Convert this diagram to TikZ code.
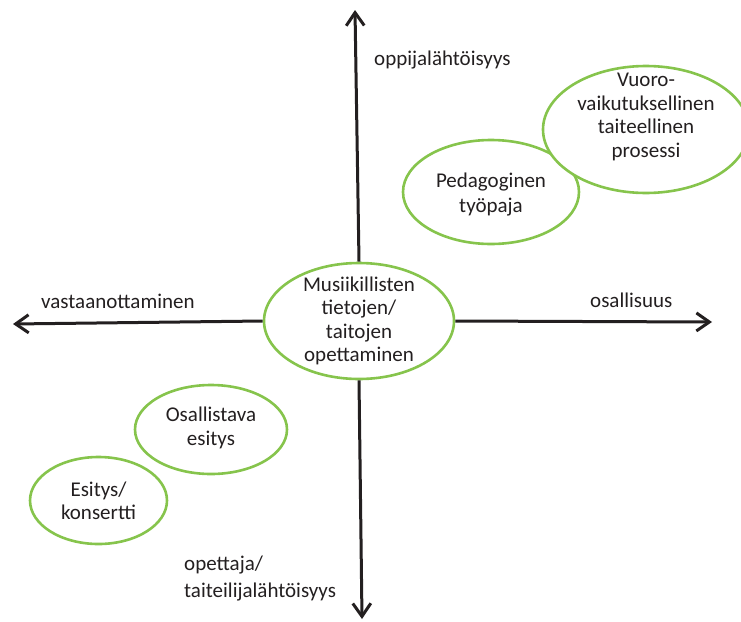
\documentclass[tikz,border=0pt]{standalone}
\usepackage{fontspec}
\setmainfont{Carlito}
\usetikzlibrary{shapes.geometric,arrows.meta}
\definecolor{ink}{HTML}{231F20}
\definecolor{leaf}{RGB}{134,196,76}
\tikzset{
  bubble/.style={ellipse, draw=leaf, line width=2.6pt, inner sep=0pt, fill=white},
  txt/.style={text=ink, align=center, font=\fontsize{21}{23.5}\selectfont, inner sep=0pt},
  axis/.style={draw=ink, line width=3pt, -{Straight Barb[length=13pt,width=18pt]}},
}
\begin{document}
\begin{tikzpicture}[x=1pt,y=-1pt]
\useasboundingbox (0,0) rectangle (741,621);
% central ellipse
\node[bubble, minimum width=190pt, minimum height=116pt] (c) at (359,321) {};
% axes
\coordinate (top) at (355,10);
\coordinate (bot) at (362,619);
\coordinate (lft) at (13,324);
\coordinate (rgt) at (712,322);
\draw[axis] (c.north) -- (top);
\draw[axis] (c.south) -- (bot);
\draw[axis] (c.west) -- (lft);
\draw[axis] (c.east) -- (rgt);
\node[txt] (ct) at (359,321) {Musiikillisten\\tietojen/\\taitojen\\opettaminen};
% other ellipses
\node[bubble, minimum width=176pt, minimum height=104pt] (ped) at (491,192) {};
\node[bubble, minimum width=206pt, minimum height=127pt] (vuo) at (646,129.5) {};
\node[txt] (vuot) at (646,117) {Vuoro-\\vaikutuksellinen\\taiteellinen\\prosessi};
\node[txt, font=\fontsize{21}{25}\selectfont] (pedt) at (491,195) {Pedagoginen\\työpaja};
\node[bubble, minimum width=152pt, minimum height=89pt] (osa) at (211,429.5) {};
\node[txt] (osat) at (211,428) {Osallistava\\esitys};
\node[bubble, minimum width=137pt, minimum height=87pt] (esi) at (98.5,500.5) {};
\node[txt] (esit) at (98.5,501) {Esitys/\\konsertti};
% axis labels
\node[txt, anchor=west] (opp) at (374,60) {oppijalähtöisyys};
\node[txt, anchor=west] (vas) at (41,301) {vastaanottaminen};
\node[txt, anchor=west] (osl) at (590,300) {osallisuus};
\node[txt, anchor=north west, align=left, font=\fontsize{21}{27}\selectfont] (ope) at (184,556) {opettaja/\\taiteilijalähtöisyys};
\end{tikzpicture}
\end{document}
